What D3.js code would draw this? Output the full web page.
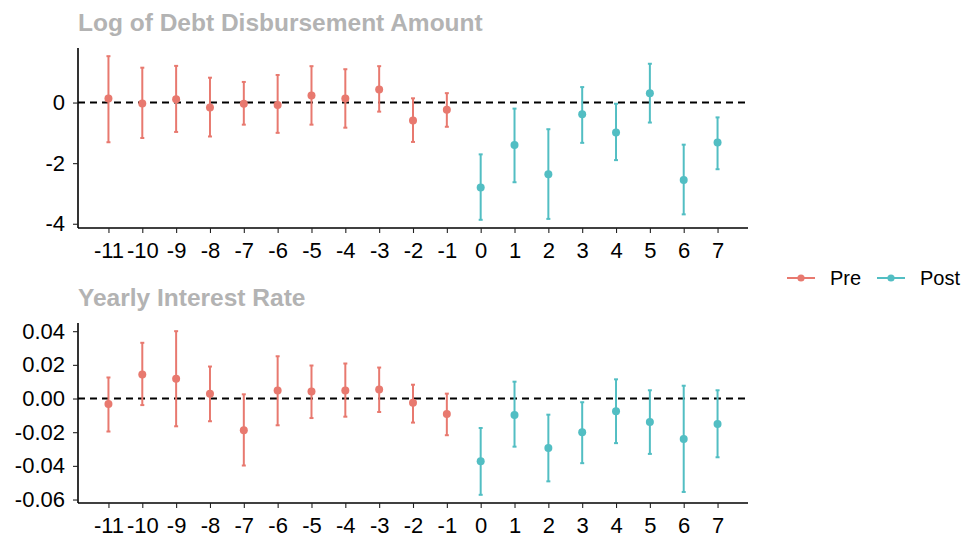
<!DOCTYPE html>
<html>
<head>
<meta charset="utf-8">
<script src="https://cdn.jsdelivr.net/npm/d3@7"></script>
<style>
  body { margin: 0; background: #fff; }
  text { font-family: "Liberation Sans", Arial, sans-serif; }
</style>
</head>
<body>
<div class="chart"></div>
<script>
// event time
const periods = [-11,-10,-9,-8,-7,-6,-5,-4,-3,-2,-1,0,1,2,3,4,5,6,7];
const xTicks = periods;

// Log of Debt Disbursement Amount
const debtEst = [0.13,-0.03,0.11,-0.16,-0.04,-0.08,0.23,0.13,0.43,-0.59,-0.24,-2.80,-1.40,-2.37,-0.39,-0.99,0.31,-2.56,-1.32];
const debtHi  = [1.53,1.15,1.21,0.82,0.68,0.91,1.20,1.10,1.20,0.14,0.31,-1.71,-0.20,-0.88,0.51,-0.04,1.28,-1.39,-0.49];
const debtLo  = [-1.31,-1.17,-0.97,-1.12,-0.73,-1.00,-0.73,-0.83,-0.30,-1.30,-0.80,-3.87,-2.63,-3.84,-1.33,-1.90,-0.66,-3.69,-2.20];
const debtTicks = [-4,-2,0];

// Yearly Interest Rate
const rateEst = [-0.0033,0.0143,0.0118,0.0029,-0.0188,0.0047,0.0041,0.0047,0.0053,-0.0025,-0.0092,-0.0373,-0.0098,-0.0294,-0.0200,-0.0075,-0.0139,-0.0241,-0.0151];
const rateHi  = [0.0125,0.0331,0.0400,0.0190,0.0025,0.0251,0.0196,0.0208,0.0184,0.0082,0.0029,-0.0175,0.0100,-0.0096,-0.0022,0.0114,0.0049,0.0076,0.0049];
const rateLo  = [-0.0196,-0.0039,-0.0165,-0.0135,-0.0398,-0.0159,-0.0116,-0.0108,-0.0080,-0.0143,-0.0218,-0.0572,-0.0286,-0.0492,-0.0384,-0.0265,-0.0329,-0.0555,-0.0349];
const rateTicks = [-0.06,-0.04,-0.02,0.00,0.02,0.04];

const groups = ["Pre", "Post"];
const colorScale = d3.scaleOrdinal().domain(groups).range(["#e8796f", "#52bec3"]);

// plain hyphen for negatives, like the original
const hyphen = f => d => f(d).replace("\u2212", "-");

const width = 968, height = 537;
const svg = d3.select(".chart").append("svg")
    .attr("width", width)
    .attr("height", height);

const left = 78, right = 748;

const xScale = d3.scaleLinear()
    .domain([-11.9, 7.9])
    .range([left, right]);

function panel(title, est, lo, hi, ticks, fmt, top, bottom, titleY) {
    const rows = periods.map((p, i) => ({
        t: p, est: est[i], lo: lo[i], hi: hi[i], group: p < 0 ? "Pre" : "Post"
    }));
    const lo0 = d3.min(lo), hi0 = d3.max(hi);
    const pad = (hi0 - lo0) * 0.05;
    const yScale = d3.scaleLinear()
        .domain([lo0 - pad, hi0 + pad])
        .range([bottom, top]);

    svg.append("text")
        .attr("x", left)
        .attr("y", titleY)
        .attr("font-size", 24.5)
        .attr("font-weight", "bold")
        .attr("fill", "#b3b3b3")
        .text(title);

    const yAxis = d3.axisLeft(yScale).tickValues(ticks).tickFormat(hyphen(fmt)).tickSize(5).tickPadding(8);
    const xAxis = d3.axisBottom(xScale).tickValues(xTicks).tickFormat(hyphen(d3.format("d"))).tickSize(5).tickPadding(9);

    const gy = svg.append("g")
        .attr("transform", `translate(${left},0)`)
        .call(yAxis);
    const gx = svg.append("g")
        .attr("transform", `translate(0,${bottom})`)
        .call(xAxis);
    [gx, gy].forEach(g => {
        g.select(".domain").attr("stroke", "#000").attr("stroke-width", 1.6)
            .attr("d", g === gx ? `M${left},0H${right}` : `M0,${top}V${bottom}`);
        g.selectAll(".tick line").attr("stroke", "#222").attr("stroke-width", 1.1);
        g.selectAll(".tick text").attr("fill", "#000").attr("font-size", 22)
            .attr("font-family", "Liberation Sans, Arial, sans-serif");
    });

    // reference line at zero
    svg.append("line")
        .attr("x1", left).attr("x2", right)
        .attr("y1", yScale(0)).attr("y2", yScale(0))
        .attr("stroke", "#000")
        .attr("stroke-width", 2)
        .attr("stroke-dasharray", "7,5");

    const g = svg.append("g");
    const bars = g.selectAll(".err").data(rows).enter().append("g")
        .attr("stroke", d => colorScale(d.group))
        .attr("stroke-width", 2);
    bars.append("line")
        .attr("x1", d => xScale(d.t)).attr("x2", d => xScale(d.t))
        .attr("y1", d => yScale(d.lo)).attr("y2", d => yScale(d.hi));
    bars.append("line")
        .attr("x1", d => xScale(d.t) - 2).attr("x2", d => xScale(d.t) + 2)
        .attr("y1", d => yScale(d.lo)).attr("y2", d => yScale(d.lo));
    bars.append("line")
        .attr("x1", d => xScale(d.t) - 2).attr("x2", d => xScale(d.t) + 2)
        .attr("y1", d => yScale(d.hi)).attr("y2", d => yScale(d.hi));

    g.selectAll("circle").data(rows).enter().append("circle")
        .attr("cx", d => xScale(d.t))
        .attr("cy", d => yScale(d.est))
        .attr("r", 4)
        .attr("fill", d => colorScale(d.group));
}

panel("Log of Debt Disbursement Amount", debtEst, debtLo, debtHi, debtTicks,
    d3.format("d"), 48, 228, 31);
panel("Yearly Interest Rate", rateEst, rateLo, rateHi, rateTicks,
    d3.format(".2f"), 323, 503, 306);

// legend
const legend = svg.append("g").attr("transform", "translate(787,278)");
const legendX = [0, 90];
groups.forEach((grp, i) => {
    const lg = legend.append("g").attr("transform", `translate(${legendX[i]},0)`);
    lg.append("line").attr("x1", 0).attr("x2", 28).attr("y1", 0).attr("y2", 0)
        .attr("stroke", colorScale(grp)).attr("stroke-width", 2);
    lg.append("circle").attr("cx", 14).attr("cy", 0).attr("r", 3.6).attr("fill", colorScale(grp));
    lg.append("text").attr("x", 43).attr("y", 7).attr("font-size", 20).attr("fill", "#000").text(grp);
});
</script>
</body>
</html>
